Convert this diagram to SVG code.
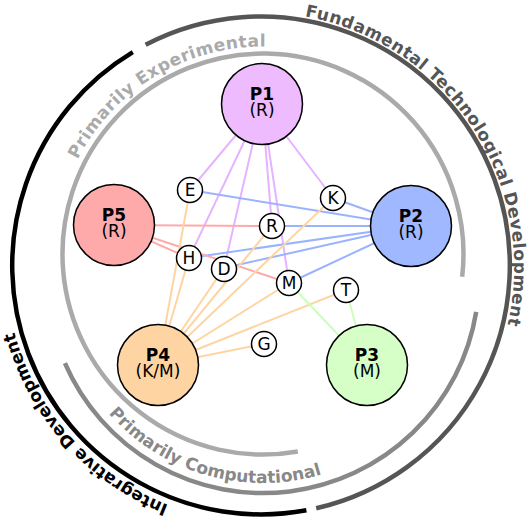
<svg xmlns="http://www.w3.org/2000/svg" width="530" height="527" viewBox="0 0 530 527">
<style>
.ring{fill:none;stroke-width:4.5}
.rl{font-family:"DejaVu Sans",sans-serif;font-weight:bold;font-size:17px}
.ls{letter-spacing:0.5px}
.e{fill:none;stroke-width:2}
.big{stroke:#000;stroke-width:1.5}
.sm{fill:#fff;stroke:#000;stroke-width:1.5}
.lb{font-family:"DejaVu Sans",sans-serif;font-size:17px;text-anchor:middle;fill:#000}
.b{font-weight:bold}
</style>
<defs>
<path id="pFund" d="M304.9,16.3 A255,255 0 0 1 481,393"/>
<path id="pInt" d="M168.5,505 A256,256 0 0 1 7,243"/>
<path id="pExp" d="M77.6,159.5 A207.5,207.5 0 0 1 366.5,74.7"/>
<path id="pComp" d="M108.7,413.5 A206,206 0 0 0 420.8,409.4"/>
</defs>
<g id="rings">
<path class="ring" stroke="#555" d="M145.6,44.8 A249,249 0 1 1 316.2,508.3"/>
<path class="ring" stroke="#000" d="M132.8,52.1 A249,249 0 0 0 306.4,510.3"/>
<path class="ring" stroke="#aaa" stroke-width="4" d="M462.2,276.7 A200.5,200.5 0 1 0 297.8,451.5"/>
<path class="ring" stroke="#888" stroke-width="4" d="M64.9,363.1 A216,216 0 0 0 476.2,311.9"/>
<text class="rl ls" fill="#555"><textPath href="#pFund">Fundamental Technological Development</textPath></text>
<text class="rl" fill="#000"><textPath href="#pInt">Integrative Development</textPath></text>
<text class="rl ls" fill="#aaa"><textPath href="#pExp">Primarily Experimental</textPath></text>
<text class="rl" fill="#888"><textPath href="#pComp">Primarily Computational</textPath></text>
</g>
<g id="connectors">
<g stroke="#e6b3ff" class="e">
<line x1="262" y1="104" x2="190" y2="190"/>
<line x1="262" y1="104" x2="189" y2="258"/>
<line x1="262" y1="104" x2="224" y2="268"/>
<line x1="262" y1="104" x2="272" y2="226"/>
<line x1="262" y1="104" x2="289" y2="283"/>
<line x1="262" y1="104" x2="333" y2="198"/>
</g>
<g stroke="#99b3ff" class="e">
<line x1="411" y1="226" x2="190" y2="190"/>
<line x1="411" y1="226" x2="333" y2="198"/>
<line x1="411" y1="226" x2="272" y2="226"/>
<line x1="411" y1="226" x2="189" y2="258"/>
<line x1="411" y1="226" x2="224" y2="268"/>
<line x1="411" y1="226" x2="289" y2="283"/>
</g>
<g stroke="#ffaaaa" class="e">
<line x1="114" y1="225" x2="272" y2="226"/>
<line x1="114" y1="225" x2="189" y2="258"/>
<line x1="114" y1="225" x2="289" y2="283"/>
</g>
<g stroke="#ffd4a3" class="e">
<line x1="158" y1="365" x2="190" y2="190"/>
<line x1="158" y1="365" x2="189" y2="258"/>
<line x1="158" y1="365" x2="224" y2="268"/>
<line x1="158" y1="365" x2="272" y2="226"/>
<line x1="158" y1="365" x2="333" y2="198"/>
<line x1="158" y1="365" x2="289" y2="283"/>
<line x1="158" y1="365" x2="346" y2="290"/>
<line x1="158" y1="365" x2="264" y2="344"/>
</g>
<g stroke="#ccffbb" class="e">
<line x1="367" y1="365" x2="289" y2="283"/>
<line x1="367" y1="365" x2="346" y2="290"/>
</g>
</g>
<g id="P1"><circle class="big" cx="262" cy="104" r="40.5" fill="#eebbff"/><text class="lb b" x="262" y="100">P1</text><text class="lb" x="262" y="116">(R)</text></g>
<g id="P2"><circle class="big" cx="411" cy="226" r="40.5" fill="#a0b8ff"/><text class="lb b" x="411" y="222">P2</text><text class="lb" x="411" y="238">(R)</text></g>
<g id="P3"><circle class="big" cx="367" cy="365" r="40.5" fill="#d6ffc8"/><text class="lb b" x="367" y="361">P3</text><text class="lb" x="367" y="377">(M)</text></g>
<g id="P4"><circle class="big" cx="158" cy="365" r="40.5" fill="#ffd4a3"/><text class="lb b" x="158" y="361">P4</text><text class="lb" x="158" y="377">(K/M)</text></g>
<g id="P5"><circle class="big" cx="114" cy="225" r="40.5" fill="#ffaaaa"/><text class="lb b" x="114" y="221">P5</text><text class="lb" x="114" y="237">(R)</text></g>
<g id="E"><circle class="sm" cx="190" cy="190" r="12.5"/><text class="lb" x="190" y="196">E</text></g>
<g id="K"><circle class="sm" cx="333" cy="198" r="12.5"/><text class="lb" x="333" y="204">K</text></g>
<g id="R"><circle class="sm" cx="272" cy="226" r="12.5"/><text class="lb" x="272" y="232">R</text></g>
<g id="H"><circle class="sm" cx="189" cy="258" r="12.5"/><text class="lb" x="189" y="264">H</text></g>
<g id="D"><circle class="sm" cx="224" cy="269" r="12.5"/><text class="lb" x="224" y="275">D</text></g>
<g id="M"><circle class="sm" cx="289" cy="283" r="12.5"/><text class="lb" x="289" y="289">M</text></g>
<g id="T"><circle class="sm" cx="346" cy="290" r="12.5"/><text class="lb" x="346" y="296">T</text></g>
<g id="G"><circle class="sm" cx="264" cy="344" r="12.5"/><text class="lb" x="264" y="350">G</text></g>
</svg>
